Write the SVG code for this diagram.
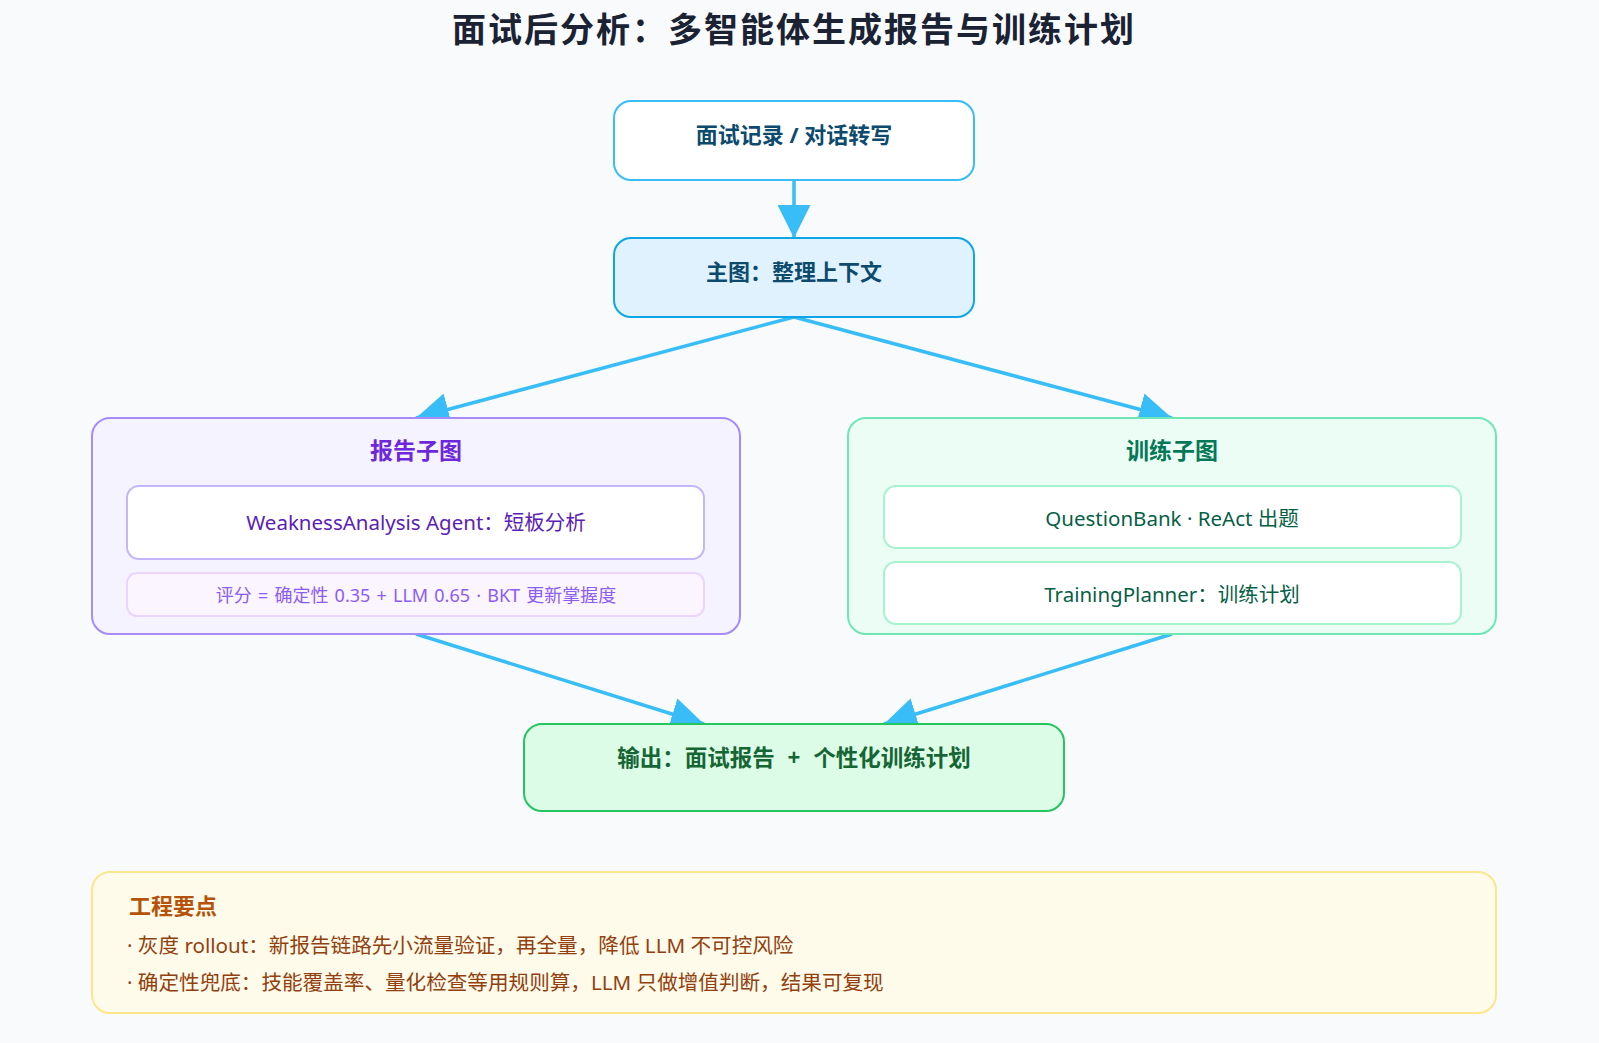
<svg xmlns="http://www.w3.org/2000/svg" width="1599" height="1043" viewBox="0 0 1599 1043">
<style>
text{font-family:"Noto Sans","Noto Sans CJK SC",sans-serif;dominant-baseline:central}
.c{text-anchor:middle}
.b{font-weight:700}
.edge{stroke:#38bdf8;stroke-width:3.5;fill:none;marker-end:url(#ah)}
</style>
<defs>
<marker id="ah" markerUnits="userSpaceOnUse" viewBox="0 0 10 10" refX="10" refY="5" markerWidth="33" markerHeight="33" orient="auto">
<path d="M0,0 L10,5 L0,10 z" fill="#38bdf8"/>
</marker>
</defs>
<rect width="1599" height="1043" fill="#f8fafc"/>
<text x="794" y="29" class="c b" font-size="34" letter-spacing="2" fill="#1a2233">面试后分析：多智能体生成报告与训练计划</text>
<g id="connectors">
<line class="edge" x1="794" y1="180" x2="794" y2="238"/>
<line class="edge" x1="794" y1="317" x2="416" y2="418"/>
<line class="edge" x1="794" y1="317" x2="1172" y2="418"/>
<line class="edge" x1="416" y1="634" x2="704" y2="724"/>
<line class="edge" x1="1172" y1="634" x2="884" y2="724"/>
</g>
<g id="transcript">
<rect x="614" y="101" width="360" height="79" rx="17" fill="#ffffff" stroke="#38bdf8" stroke-width="2"/>
<text x="794" y="134" class="c b" font-size="22" fill="#0c4a6e">面试记录 / 对话转写</text>
</g>
<g id="main">
<rect x="614" y="238" width="360" height="79" rx="17" fill="#e0f2fe" stroke="#0ea5e9" stroke-width="2"/>
<text x="794" y="271" class="c b" font-size="22" fill="#0c4a6e">主图：整理上下文</text>
</g>
<g id="report">
<rect x="92" y="418" width="648" height="216" rx="18" fill="#f5f3ff" stroke="#a78bfa" stroke-width="2"/>
<text x="416" y="450" class="c b" font-size="23" fill="#6d28d9">报告子图</text>
<rect x="127" y="486" width="577" height="73" rx="12" fill="#ffffff" stroke="#c4b5fd" stroke-width="2"/>
<text x="416" y="522" class="c" font-size="20.5" fill="#5b21b6">WeaknessAnalysis Agent：短板分析</text>
<rect x="127" y="573" width="577" height="43" rx="10" fill="#faf5ff" stroke="#e9d5ff" stroke-width="2"/>
<text x="416" y="595" class="c" font-size="18" word-spacing="1.5" fill="#8b5cf6">评分 = 确定性 0.35 + LLM 0.65 · BKT 更新掌握度</text>
</g>
<g id="training">
<rect x="848" y="418" width="648" height="216" rx="18" fill="#ecfdf5" stroke="#6ee7b7" stroke-width="2"/>
<text x="1172" y="450" class="c b" font-size="23" fill="#047857">训练子图</text>
<rect x="884" y="486" width="577" height="62" rx="12" fill="#ffffff" stroke="#a7f3d0" stroke-width="2"/>
<text x="1172" y="518" class="c" font-size="20.5" fill="#065f46">QuestionBank · ReAct 出题</text>
<rect x="884" y="562" width="577" height="62" rx="12" fill="#ffffff" stroke="#a7f3d0" stroke-width="2"/>
<text x="1172" y="594" class="c" font-size="20.5" fill="#065f46">TrainingPlanner：训练计划</text>
</g>
<g id="output">
<rect x="524" y="724" width="540" height="87" rx="18" fill="#dcfce7" stroke="#22c55e" stroke-width="2"/>
<text x="794" y="757" class="c b" font-size="22.5" word-spacing="7" fill="#166534">输出：面试报告 + 个性化训练计划</text>
</g>
<g id="notes">
<rect x="92" y="872" width="1404" height="141" rx="18" fill="#fffbeb" stroke="#fde68a" stroke-width="2"/>
<text x="129" y="905" class="b" font-size="22" fill="#b45309">工程要点</text>
<text x="127" y="945" font-size="20.6" fill="#92400e">· 灰度 rollout：新报告链路先小流量验证，再全量，降低 LLM 不可控风险</text>
<text x="127" y="982" font-size="20.6" fill="#92400e">· 确定性兜底：技能覆盖率、量化检查等用规则算，LLM 只做增值判断，结果可复现</text>
</g>
</svg>
